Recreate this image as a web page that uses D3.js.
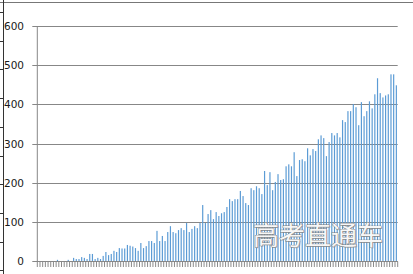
<!DOCTYPE html>
<html>
<head>
<meta charset="utf-8">
<script src="https://cdn.jsdelivr.net/npm/d3@7"></script>
<style>
  html, body { margin: 0; padding: 0; background: #fff; }
  svg { display: block; }
  .tick-label { font-family: "DejaVu Sans", sans-serif; font-size: 10.5px; fill: #1a1a1a; }
  .watermark { font-family: "Noto Sans CJK SC", sans-serif; font-size: 26px; }
</style>
</head>
<body>
<div id="wrapper"></div>
<script>
// categories are just the running index, the picture shows no labels
const days = d3.range(1, 135)

// bar heights, left to right
const counts = [
  0, 0, 0, 0, 0, 0, 0, 3, 0, 0,
  0, 3, 0, 8, 5, 5, 10, 8, 5, 18,
  18, 5, 8, 5, 13, 23, 15, 18, 26, 23,
  33, 32, 32, 41, 39, 37, 33, 26, 46, 33,
  38, 51, 51, 46, 77, 51, 64, 51, 74, 89,
  74, 71, 79, 84, 79, 97, 74, 82, 89, 84,
  97, 143, 97, 120, 130, 107, 125, 115, 122, 125,
  138, 158, 153, 158, 158, 179, 166, 148, 143, 186,
  181, 191, 186, 171, 230, 194, 227, 181, 202, 222,
  207, 209, 242, 247, 242, 278, 217, 258, 260, 255,
  288, 270, 286, 281, 311, 321, 314, 268, 304, 327,
  321, 327, 316, 360, 355, 383, 383, 401, 393, 347,
  406, 370, 383, 408, 390, 426, 467, 429, 418, 423,
  426, 477, 477, 449
]

const yTicks = [0, 100, 200, 300, 400, 500, 600]

const watermarkText = "高考直通车"

function drawChart() {
  const dimensions = {
    width: 413,
    height: 274,
    margin: { top: 26.2, right: 15.3, bottom: 13, left: 37.3 },
  }
  dimensions.boundedWidth = dimensions.width
    - dimensions.margin.left
    - dimensions.margin.right
  dimensions.boundedHeight = dimensions.height
    - dimensions.margin.top
    - dimensions.margin.bottom

  const wrapper = d3.select("#wrapper")
    .append("svg")
      .attr("width", dimensions.width)
      .attr("height", dimensions.height)

  // bits of the screenshot frame: top rule and the ruler on the left
  wrapper.append("line")
    .attr("x1", 0).attr("x2", dimensions.width)
    .attr("y1", 2.5).attr("y2", 2.5)
    .attr("stroke", "#777")
  wrapper.append("line")
    .attr("x1", 3.5).attr("x2", 3.5)
    .attr("y1", 0).attr("y2", dimensions.height)
    .attr("stroke", "#333")
  d3.range(12, 274, 28.7).forEach(y => {
    wrapper.append("line")
      .attr("x1", 0).attr("x2", 3.5)
      .attr("y1", Math.round(y) + 0.5).attr("y2", Math.round(y) + 0.5)
      .attr("stroke", "#333")
  })

  const bounds = wrapper.append("g")
    .attr("transform", `translate(${dimensions.margin.left}, ${dimensions.margin.top})`)

  const xScale = d3.scaleBand()
    .domain(days)
    .range([0, dimensions.boundedWidth])
    .paddingInner(0.56)
    .paddingOuter(0.28)

  const yScale = d3.scaleLinear()
    .domain([0, 600])
    .range([dimensions.boundedHeight, 0])

  // gridlines, they poke out left of the axis like tick marks
  const grid = bounds.append("g")
  yTicks.forEach(t => {
    const y = Math.round(yScale(t) + dimensions.margin.top) - dimensions.margin.top + 0.5
    grid.append("line")
      .attr("x1", -5)
      .attr("x2", dimensions.boundedWidth)
      .attr("y1", y)
      .attr("y2", y)
      .attr("stroke", "#878787")
    grid.append("text")
      .attr("class", "tick-label")
      .attr("x", -13.3)
      .attr("y", y)
      .attr("dy", "0.36em")
      .style("text-anchor", "end")
      .text(t)
  })

  // y axis line
  bounds.append("line")
    .attr("x1", 0).attr("x2", 0)
    .attr("y1", 0).attr("y2", dimensions.boundedHeight + 0.5)
    .attr("stroke", "#878787")

  bounds.append("g")
    .selectAll("rect")
    .data(counts)
    .join("rect")
      .attr("x", (d, i) => xScale(days[i]))
      .attr("width", xScale.bandwidth())
      .attr("y", d => yScale(d))
      .attr("height", d => yScale(0) - yScale(d))
      .attr("fill", "#5b9bd5")

  // category tick marks under the axis, one per boundary
  const gap = (xScale.step() - xScale.bandwidth()) / 2
  const boundaries = days.map(d => xScale(d) - gap)
    .concat([dimensions.boundedWidth])
  const base = Math.round(yScale(0) + dimensions.margin.top) - dimensions.margin.top + 0.5
  bounds.append("g")
    .selectAll("line")
    .data(boundaries)
    .join("line")
      .attr("x1", d => d)
      .attr("x2", d => d)
      .attr("y1", base)
      .attr("y2", base + 5.5)
      .attr("stroke", "#8a8a8a")

  bounds.append("line")
    .attr("x1", 0).attr("x2", dimensions.boundedWidth)
    .attr("y1", base).attr("y2", base)
    .attr("stroke", "#878787")

  // watermark over the plot: soft shadow, then white letters with grey edge
  wrapper.append("text")
    .attr("class", "watermark")
    .attr("x", 254.2)
    .attr("y", 246.2)
    .attr("fill", "#9a9a9a")
    .attr("fill-opacity", 0.6)
    .text(watermarkText)
  wrapper.append("text")
    .attr("class", "watermark")
    .attr("x", 253)
    .attr("y", 245)
    .attr("fill", "#f7f7f7")
    .attr("stroke", "#7d7d7d")
    .attr("stroke-width", 0.9)
    .attr("paint-order", "stroke")
    .text(watermarkText)
}
drawChart()
</script>
</body>
</html>
